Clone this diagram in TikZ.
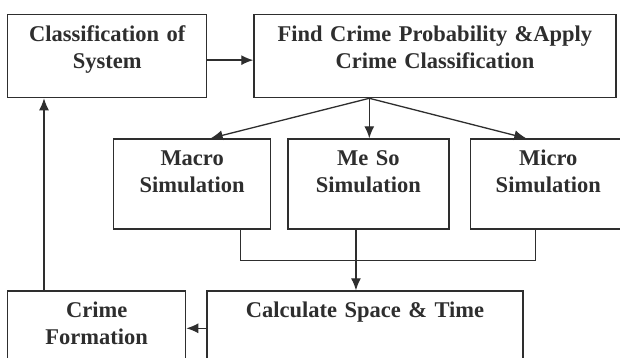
\documentclass[tikz,border=0pt]{standalone}
\usepackage{fontspec}
\setmainfont{Liberation Serif}
\usetikzlibrary{positioning}
\usetikzlibrary{calc}
\usetikzlibrary{arrows.meta}
\definecolor{ink}{HTML}{2E2E2E}
\tikzset{>={Latex[length=12pt,width=10pt]}}
\tikzset{stage/.style={rectangle, draw=ink, line width=1.3pt, text=ink, inner sep=0pt, align=center,
    font=\fontsize{22.5}{27}\selectfont\bfseries, text height=26.5pt, text depth=#1}}
\tikzset{flow/.style={draw=ink, line width=1.3pt}}

\begin{document}
\begin{tikzpicture}[remember picture]

    \useasboundingbox [fill=white] (0,0) rectangle (620pt,358pt);

    % Top row.
    \node [stage=56.5pt, text width=199pt, anchor=north west] (classif) at (7pt,344pt) {Classification of\\System};
    \node [stage=56.5pt, text width=362pt, anchor=north west] (prob) at ($(classif.north east) + (46pt,0)$) {Find Crime Probability \&Apply\\Crime Classification};

    % Simulation row.
    \node [stage=63.5pt, text width=157pt, anchor=north west] (macro) at ($(classif.south west) + (106pt,-40pt)$) {Macro\\Simulation};
    \node [stage=63.5pt, text width=161pt, anchor=north west] (meso) at ($(macro.north east) + (16pt,0)$) {Me So\\Simulation};
    \node [stage=63.5pt, text width=156pt, anchor=north west] (micro) at ($(meso.north east) + (20pt,0)$) {Micro\\Simulation};

    % Bottom row.
    \node [stage=73.5pt, text width=178pt, anchor=north west] (formation) at ($(classif.south west) - (0,192pt)$) {Crime\\Formation};
    \node [stage=73.5pt, text width=316pt, anchor=north west] (calc) at ($(formation.north east) + (20pt,0)$) {Calculate Space \& Time};

    % Coordinates for simplicity.
    \coordinate (split) at ($(prob.south west) + (116pt,0)$);
    \coordinate (join) at ($(meso.south) - (12.5pt,31pt)$);
    \coordinate (back) at ($(calc.north west) - (0,38pt)$);
    \coordinate (up) at ($(formation.north west) + (37pt,0)$);
    \coordinate (into) at ($(classif.east) - (0,4pt)$);

    % Lines from classification to probability.
    \draw [flow,->] (into) -- (into -| prob.west);

    % Lines from probability to simulations.
    \draw [flow,->] (split) -- ($(macro.north) + (18.5pt,0)$);
    \draw [flow,->] (split) -- (split |- meso.north);
    \draw [flow,->] (split) -- ($(micro.north) - (22pt,0)$);

    % Lines from simulations to space and time.
    \draw [flow] ($(macro.south) + (48.5pt,0)$) |- (join) -| ($(micro.south) - (13pt,0)$);
    \draw [flow,->] (join |- meso.south) -- (join |- calc.north);

    % Lines back to classification.
    \draw [flow,->] (back) -- (back -| formation.east);
    \draw [flow,->] (up) -- (up |- classif.south);

\end{tikzpicture}
\end{document}
